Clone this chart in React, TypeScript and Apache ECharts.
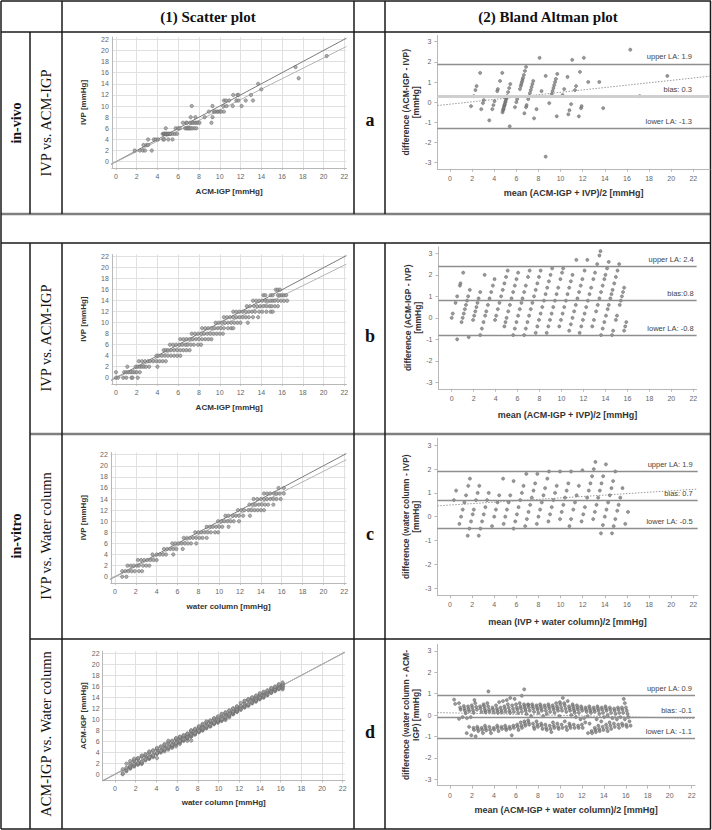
import React, { useEffect, useRef } from "react";
import * as echarts from "echarts";

// ---------- tick labels ----------
const evenTicks = [0, 2, 4, 6, 8, 10, 12, 14, 16, 18, 20, 22];
const diffTicks = [-3, -2, -1, 0, 1, 2, 3];

// ---------- (a) in-vivo: IVP levels and ACM-IGP readings ----------
const vivoIvpLevels = [2, 3, 4, 5, 6, 7, 8, 9, 10, 11, 12, 13, 14, 15, 17, 19];
const vivoAcm: number[][] = [
  [1.8, 2.3, 2.6, 2.8, 3.45],
  [2.65, 2.95, 3.1],
  [3.1, 3.65, 3.85, 4.05, 4.55, 4.65, 5.05, 5.45],
  [4.5, 4.6, 4.65, 4.7, 4.8, 4.85, 4.9, 5.0, 5.05, 5.15, 5.2, 5.3, 5.5, 5.7, 5.9],
  [4.8, 5.75, 6.0, 6.15, 6.65, 6.8, 6.9, 7.0, 7.1, 7.2, 7.35, 7.55, 7.75],
  [6.45, 6.75, 6.85, 7.15, 7.3, 7.45, 7.6, 7.75, 7.9, 8.05, 9.2],
  [7.2, 7.65, 8.55, 9.3],
  [8.95, 9.4, 9.55, 9.7, 9.85, 10.0, 10.15, 10.4],
  [7.3, 9.3, 10.35, 10.65, 11.25, 12.1],
  [10.4, 10.6, 10.9, 11.6, 11.8, 12.5, 13.2],
  [11.3, 11.7, 11.8, 13.0],
  [14.0],
  [13.7],
  [17.6],
  [17.3],
  [20.3],
];

// ---------- (b) in-vitro IVP vs ACM-IGP: index = IVP, values = ACM-IGP ----------
const vitroB: number[][] = [
  [0.0, 0.2, 0.7, 1.0, 1.5, 1.6, 2.1],
  [0.0, 0.8, 1.0, 1.2, 1.4, 1.6, 1.8, 2.0, 2.3],
  [1.1, 1.9, 2.1, 2.3, 2.5, 2.7, 2.9, 3.2, 4.0],
  [2.2, 2.5, 2.8, 3.1, 3.3, 3.6, 3.9, 4.2, 4.5, 4.8],
  [3.9, 4.1, 4.4, 4.7, 5.0, 5.3, 5.6, 5.9, 6.2],
  [4.6, 4.8, 5.0, 5.3, 5.6, 5.9, 6.2, 6.5, 6.8, 7.1],
  [5.2, 5.5, 5.8, 6.1, 6.4, 6.7, 6.9, 7.2, 7.5, 7.9, 8.2],
  [6.2, 6.5, 6.8, 7.1, 7.4, 7.7, 8.0, 8.3, 8.6, 8.9, 9.2],
  [7.3, 7.6, 7.9, 8.2, 8.5, 8.8, 9.1, 9.4, 9.7, 10.0, 10.3],
  [8.3, 8.6, 8.9, 9.2, 9.5, 9.8, 10.1, 10.4, 10.8, 11.1, 11.3],
  [9.6, 9.9, 10.2, 10.5, 10.8, 11.1, 11.4, 11.7, 12.0, 12.7],
  [10.4, 10.7, 11.0, 11.3, 11.6, 11.9, 12.2, 12.5, 12.8, 13.2, 13.7],
  [11.3, 11.6, 11.9, 12.2, 12.5, 12.8, 13.1, 13.4, 13.8, 14.1, 14.5, 14.9, 15.1],
  [12.6, 12.9, 13.3, 13.6, 13.9, 14.2, 14.5, 14.8, 15.0, 15.3, 15.6],
  [13.2, 13.5, 13.8, 14.1, 14.4, 14.6, 14.9, 15.1, 15.3, 15.6, 15.9, 16.2, 16.5],
  [14.2, 14.4, 14.9, 15.1, 15.6, 15.8, 16.0, 16.2, 16.4],
  [15.4, 15.6, 15.8],
];

// ---------- (c) in-vitro IVP vs water column: index = IVP, values = water column ----------
const vitroC: number[][] = [
  [0.7, 1.1],
  [0.7, 1.0, 1.3, 1.6, 1.9, 2.3, 2.6],
  [1.2, 1.5, 1.8, 2.1, 2.3, 2.7, 3.0, 3.3],
  [2.2, 2.5, 2.8, 3.1, 3.4, 3.7, 4.0],
  [3.6, 4.0, 4.3, 4.6, 4.9, 5.6],
  [4.7, 5.0, 5.3, 5.6, 5.9, 6.5],
  [5.5, 5.8, 6.1, 6.4, 6.7, 7.0, 7.3, 7.8],
  [6.6, 6.9, 7.2, 7.5, 7.8, 8.1, 8.4, 8.8],
  [7.7, 8.0, 8.3, 8.6, 8.9, 9.2, 9.6, 9.9],
  [8.8, 9.1, 9.4, 9.7, 10.0, 10.3, 10.9],
  [9.9, 10.2, 10.5, 10.8, 11.1, 11.4, 11.9],
  [10.6, 10.9, 11.3, 11.6, 11.9, 12.3, 12.95],
  [11.8, 12.1, 12.4, 12.8, 13.1, 13.4, 13.7, 14.0, 14.3],
  [12.9, 13.2, 13.5, 13.8, 14.1, 14.4, 14.7, 15.2],
  [13.3, 13.65, 14.0, 14.3, 14.6, 14.9, 15.2, 15.5, 15.9],
  [14.3, 14.6, 14.9, 15.25, 15.5, 15.8, 16.2],
  [15.7, 16.2],
];

// ---------- (d) in-vitro ACM-IGP vs water column: water column levels, differences (water - ACM) ----------
const waterD = [0.74, 1.1, 1.47, 1.84, 2.21, 2.58, 2.94, 3.31, 3.68, 4.05, 4.42, 4.78, 5.15, 5.52, 5.89, 6.26, 6.62, 6.99, 7.36, 7.73, 8.1, 8.46, 8.83, 9.2, 9.57, 9.94, 10.3, 10.67, 11.04, 11.41, 11.78, 12.14, 12.51, 12.88, 13.25, 13.62, 13.98, 14.35, 14.72, 15.09, 15.46, 15.82, 16.19];
const diffD: number[][] = [
  [0.72, 0.52, -0.18],
  [0.55, 0.35, 0.25, -0.1, -0.85],
  [0.42, 0.3, 0.2, 0.08, -0.15, -0.55, -0.95],
  [0.4, 0.28, 0.18, -0.1, -0.6, -0.7, -1.0],
  [0.45, 0.35, 0.22, 0.1, -0.55, -0.65, -0.75],
  [0.7, 0.55, 0.38, 0.25, -0.6, -0.7, -0.85],
  [0.4, 0.3, 0.15, -0.5, -0.62, -0.72],
  [0.5, 0.42, 0.3, 0.2, 0.12, -0.55, -0.7, -0.85],
  [0.55, 0.4, 0.25, 0.15, -0.6, -0.68],
  [1.1, 0.35, 0.25, 0.12, -0.5, -0.6, -0.75],
  [0.45, 0.3, 0.2, 0.1, -0.55, -0.65],
  [0.6, 0.35, 0.22, 0.12, -0.5, -0.62, -0.7],
  [0.65, 0.4, 0.28, 0.15, -0.55, -0.65, -0.95],
  [0.7, 0.5, 0.35, 0.2, 0.1, -0.5, -0.6],
  [0.8, 0.45, 0.3, 0.15, -0.45, -0.55, -0.7],
  [0.75, 0.5, 0.35, 0.25, 0.1, -0.35, -0.5, -0.6],
  [0.55, 0.4, 0.3, 0.15, -0.3, -0.4, -0.5],
  [0.9, 0.5, 0.4, 0.3, 0.2, 0.05, -0.25, -0.35, -0.45],
  [1.2, 0.5, 0.45, 0.35, 0.2, -0.05, -0.4, -0.55, -0.65],
  [0.5, 0.4, 0.3, 0.15, -0.3, -0.45, -0.55],
  [0.45, 0.35, 0.25, 0.1, -0.4, -0.5, -0.65],
  [0.5, 0.4, 0.3, 0.2, -0.05, -0.45, -0.6, -0.7],
  [0.45, 0.35, 0.2, 0.05, -0.5, -0.65, -0.8],
  [0.5, 0.4, 0.3, 0.15, -0.35, -0.5, -0.6],
  [0.45, 0.35, 0.25, 0.1, -0.4, -0.55, -0.65],
  [0.55, 0.4, 0.3, 0.2, -0.05, -0.45, -0.6],
  [0.6, 0.5, 0.35, 0.2, -0.3, -0.55, -0.7],
  [0.8, 0.55, 0.45, 0.3, 0.15, -0.4, -0.5, -0.6],
  [0.65, 0.4, 0.3, 0.2, 0.0, -0.45, -0.6],
  [0.5, 0.4, 0.3, 0.2, 0.1, -0.1, -0.5, -0.6],
  [0.45, 0.35, 0.25, 0.1, -0.2, -0.45, -0.6],
  [0.4, 0.3, 0.2, -0.15, -0.35, -0.85],
  [0.35, 0.25, 0.15, -0.05, -0.4, -0.75, -0.85],
  [0.4, 0.3, 0.2, 0.1, -0.6, -0.7, -0.8],
  [0.35, 0.25, 0.15, -0.2, -0.5, -0.65, -0.75],
  [0.4, 0.3, 0.2, 0.05, -0.3, -0.55, -0.7],
  [0.35, 0.25, 0.1, -0.1, -0.45, -0.6, -0.75],
  [0.4, 0.3, 0.2, 0.0, -0.35, -0.5, -0.65],
  [0.35, 0.25, 0.1, -0.15, -0.4, -0.55],
  [0.3, 0.2, 0.05, -0.2, -0.45, -0.6],
  [0.35, 0.25, 0.1, -0.1, -0.4, -0.5],
  [0.35, 0.25, 0.1, -0.2, -0.45, -0.55],
  [0.75, 0.55, 0.35, 0.2, 0.05, -0.1, -0.3, -0.5],
];

// ---------- regression / limits of agreement ----------
const scatterRegSlope = [0.935, 0.934, 0.953, 0.995];
const scatterRegIntercept = [-0.05, -0.08, -0.06, 0.08];
const baRegSlope = [0.059, 0, 0.03, -0.0116];
const baRegIntercept = [-0.1, 0, 0.49, 0.1];
const baHasReg = [true, false, true, true];
const upperLA = [1.9, 2.4, 1.9, 0.9];
const biasVal = [0.3, 0.8, 0.7, -0.1];
const lowerLA = [-1.3, -0.8, -0.5, -1.1];
const upperText = ["upper LA: 1.9", "upper LA: 2.4", "upper LA: 1.9", "upper LA: 0.9"];
const biasText = ["bias: 0.3", "bias:0.8", "bias: 0.7", "bias: -0.1"];
const lowerText = ["lower LA: -1.3", "lower LA: -0.8", "lower LA: -0.5", "lower LA: -1.1"];

// ---------- names ----------
const scatterXNames = ["ACM-IGP [mmHg]", "ACM-IGP [mmHg]", "water column [mmHg]", "water column [mmHg]"];
const scatterYNames = ["IVP [mmHg]", "IVP [mmHg]", "IVP [mmHg]", "ACM-IGP [mmHg]"];
const baXNames = [
  "mean (ACM-IGP + IVP)/2 [mmHg]",
  "mean (ACM-IGP + IVP)/2 [mmHg]",
  "mean (IVP + water column)/2 [mmHg]",
  "mean (ACM-IGP + water column)/2 [mmHg]",
];
const baYNames = [
  "difference (ACM-IGP - IVP)\n[mmHg]",
  "difference (ACM-IGP - IVP)\n[mmHg]",
  "difference (water column - IVP)\n[mmHg]",
  "difference (water column - ACM-\nIGP) [mmHg]",
];

// ---------- layout ----------
const scatterLayout = [
  { left: 111.8, top: 37.1, width: 234.6, height: 130.7, xMin: -0.4, xGap: 19.4, yGap: 24.6 },
  { left: 111.8, top: 254.5, width: 234.6, height: 129.25, xMin: -0.4, xGap: 19.75, yGap: 24.6 },
  { left: 110.8, top: 452.5, width: 235.5, height: 130.3, xMin: -0.4, xGap: 19.4, yGap: 23.6 },
  { left: 102.6, top: 651.1, width: 242.2, height: 129.3, xMin: -1.2, xGap: 18.4, yGap: 15.4 },
];
const baLayout = [
  { left: 437.3, top: 35.6, width: 272.6, height: 133.15, xMin: -1.15, xMax: 23.5, xGap: 20, yGap: 16, labelDx: 18 },
  { left: 438.5, top: 246.9, width: 258.1, height: 141.85, xMin: -1.2, xMax: 22.3, xGap: 21.75, yGap: 15.5, labelDx: 3 },
  { left: 437.3, top: 438.2, width: 260.4, height: 157, xMin: -1.15, xMax: 22.4, xGap: 22, yGap: 16, labelDx: 5 },
  { left: 437.3, top: 644.4, width: 257.7, height: 141.2, xMin: -1.15, xMax: 22.3, xGap: 20, yGap: 16, labelDx: 3 },
];

const SANS = '"Liberation Sans", Arial, sans-serif';
const SERIF = '"Liberation Serif", "Times New Roman", serif';

function buildPoints() {
  const sc: number[][][] = [[], [], [], []];
  const ba: number[][][] = [[], [], [], []];
  vivoIvpLevels.forEach((ivp, k) => {
    vivoAcm[k].forEach((a) => {
      sc[0].push([a, ivp]);
      ba[0].push([(a + ivp) / 2, a - ivp]);
    });
  });
  vitroB.forEach((row, ivp) => {
    row.forEach((a) => {
      sc[1].push([a, ivp]);
      ba[1].push([(a + ivp) / 2, a - ivp]);
    });
  });
  vitroC.forEach((row, ivp) => {
    row.forEach((w) => {
      sc[2].push([w, ivp]);
      ba[2].push([(w + ivp) / 2, w - ivp]);
    });
  });
  waterD.forEach((w, k) => {
    diffD[k].forEach((d) => {
      const a = w - d;
      sc[3].push([w, a]);
      ba[3].push([(w + a) / 2, d]);
    });
  });
  return { sc, ba };
}

function buildOption() {
  const { sc, ba } = buildPoints();
  const grid: any[] = [];
  const xAxis: any[] = [];
  const yAxis: any[] = [];
  const series: any[] = [];
  const axisColor = "#b8b8b8";
  const scatterPointStyle = { color: "#9a9a9a", borderColor: "#5e5e5e", borderWidth: 0.6 };
  const baPointStyle = { color: "#808080", borderColor: "#5a5a5a", borderWidth: 0.5 };

  for (let i = 0; i < 4; i++) {
    const s = scatterLayout[i];
    const b = baLayout[i];
    const gs = grid.length;
    grid.push({ left: s.left, top: s.top, width: s.width, height: s.height, containLabel: false, outerBoundsMode: "none" });
    grid.push({ left: b.left, top: b.top, width: b.width, height: b.height, containLabel: false, outerBoundsMode: "none" });

    // scatter axes
    xAxis.push({
      gridIndex: gs, type: "value", min: s.xMin, max: 22.2,
      name: scatterXNames[i], nameLocation: "middle", nameGap: s.xGap, nameMoveOverlap: false,
      nameTextStyle: { fontSize: 8, fontWeight: "bold", color: "#333", fontFamily: SANS },
      axisLine: { show: true, onZero: false, lineStyle: { color: axisColor, width: 1 } },
      axisTick: { show: true, length: 2, customValues: evenTicks, lineStyle: { color: axisColor } },
      axisLabel: { show: true, customValues: evenTicks, fontSize: 7, color: "#666", margin: 5, fontFamily: SANS },
      splitLine: { show: true, lineStyle: { color: "#e0e0e0", width: 1 } },
    });
    yAxis.push({
      gridIndex: gs, type: "value", min: -1.1, max: 22.4,
      name: scatterYNames[i], nameLocation: "middle", nameGap: s.yGap, nameRotate: 90, nameMoveOverlap: false,
      nameTextStyle: { fontSize: 8, fontWeight: "bold", color: "#333", fontFamily: SANS },
      axisLine: { show: true, onZero: false, lineStyle: { color: axisColor, width: 1 } },
      axisTick: { show: false, customValues: evenTicks },
      axisLabel: { show: true, customValues: evenTicks, fontSize: 7, color: "#666", margin: 3, fontFamily: SANS },
      splitLine: { show: true, lineStyle: { color: "#e0e0e0", width: 1 } },
    });
    // BA axes
    xAxis.push({
      gridIndex: gs + 1, type: "value", min: b.xMin, max: b.xMax,
      name: baXNames[i], nameLocation: "middle", nameGap: b.xGap, nameMoveOverlap: false,
      nameTextStyle: { fontSize: 9, fontWeight: "bold", color: "#333", fontFamily: SANS },
      axisLine: { show: true, onZero: false, lineStyle: { color: axisColor, width: 1 } },
      axisTick: { show: true, length: 3, customValues: evenTicks, lineStyle: { color: axisColor } },
      axisLabel: { show: true, customValues: evenTicks, fontSize: 7, color: "#666", margin: 6, fontFamily: SANS },
      splitLine: { show: false },
    });
    yAxis.push({
      gridIndex: gs + 1, type: "value", min: -3.3, max: 3.3,
      name: baYNames[i], nameLocation: "middle", nameGap: b.yGap, nameRotate: 90, nameMoveOverlap: false,
      nameTextStyle: { fontSize: 8.5, fontWeight: "bold", color: "#333", lineHeight: 10, align: "center", fontFamily: SANS },
      axisLine: { show: true, onZero: false, lineStyle: { color: axisColor, width: 1 } },
      axisTick: { show: true, length: 3, customValues: diffTicks, lineStyle: { color: axisColor } },
      axisLabel: { show: true, customValues: diffTicks, fontSize: 7, color: "#666", margin: 6, fontFamily: SANS },
      splitLine: { show: false },
    });

    const xi = gs;
    // identity line
    series.push({
      type: "line", xAxisIndex: xi, yAxisIndex: xi, data: [[-1.2, -1.2], [22.2, 22.2]],
      symbol: "none", clip: false, silent: true, z: 1,
      lineStyle: { color: "#7c7c7c", width: 1 },
    });
    // regression line
    const rs = scatterRegSlope[i];
    const ri = scatterRegIntercept[i];
    series.push({
      type: "line", xAxisIndex: xi, yAxisIndex: xi,
      data: [[-1.2, ri + rs * -1.2], [22.2, ri + rs * 22.2]],
      symbol: "none", clip: false, silent: true, z: 1,
      lineStyle: { color: "#b4b4b4", width: 1 },
    });
    // scatter points
    series.push({
      type: "scatter", xAxisIndex: xi, yAxisIndex: xi, data: sc[i],
      symbolSize: 3.4, itemStyle: scatterPointStyle, silent: true, z: 3,
    });

    // BA points + LA lines
    const lineLab = (txt: string) => ({
      show: true, position: "insideEndTop", formatter: txt, fontSize: 7.5, color: "#444",
      fontFamily: SANS, distance: [b.labelDx, 3],
      textBorderWidth: 0, textBorderColor: "transparent", textShadowBlur: 0,
      backgroundColor: "transparent",
    });
    const laStyle = { color: "#8e8e8e", width: 1.3, type: "solid" };
    const biasStyle = i === 0 ? { color: "#cfcfcf", width: 3, type: "solid" } : { color: "#8e8e8e", width: 1.3, type: "solid" };
    series.push({
      type: "scatter", xAxisIndex: xi + 1, yAxisIndex: xi + 1, data: ba[i],
      symbolSize: 3.2, itemStyle: baPointStyle, silent: true, z: 3,
      markLine: {
        silent: true, symbol: ["none", "none"], animation: false,
        data: [
          { yAxis: upperLA[i], lineStyle: laStyle, label: lineLab(upperText[i]) },
          { yAxis: biasVal[i], lineStyle: biasStyle, label: lineLab(biasText[i]) },
          { yAxis: lowerLA[i], lineStyle: laStyle, label: lineLab(lowerText[i]) },
        ],
      },
    });
    if (baHasReg[i]) {
      const bs = baRegSlope[i];
      const bi = baRegIntercept[i];
      series.push({
        type: "line", xAxisIndex: xi + 1, yAxisIndex: xi + 1,
        data: [[b.xMin, bi + bs * b.xMin], [b.xMax, bi + bs * b.xMax]],
        symbol: "none", silent: true, z: 2,
        lineStyle: { color: "#9a9a9a", width: 1, type: [1.5, 1.5] },
      });
    }
  }

  // ---------- table frame ----------
  const dark = { stroke: "#1a1a1a", lineWidth: 1.5 };
  const gray = { stroke: "#7f7f7f", lineWidth: 2.5 };
  const hl = (y: number, x1: number, x2: number, st: any) => ({ type: "line", silent: true, shape: { x1, y1: y, x2, y2: y }, style: st });
  const vl = (x: number, y1: number, y2: number, st: any) => ({ type: "line", silent: true, shape: { x1: x, y1, x2: x, y2 }, style: st });
  const txt = (t: string, x: number, y: number, font: string, rot = 0) => ({
    type: "text", silent: true, x, y, rotation: rot,
    style: { text: t, x: 0, y: 0, font, fill: "#111", textAlign: "center", textVerticalAlign: "middle", align: "center", verticalAlign: "middle" },
  });
  const graphics: any[] = [
    hl(1, 1, 711, dark), hl(32, 1, 711, dark), hl(214, 1, 711, gray), hl(243, 1, 711, dark),
    hl(434, 30, 711, gray), hl(639, 30, 711, dark), hl(829, 1, 711, dark),
    vl(1, 1, 829, dark), vl(710.5, 1, 829, dark),
    vl(30, 32, 214, dark), vl(30, 243, 829, dark),
    vl(62, 1, 214, dark), vl(62, 243, 829, dark),
    vl(354, 1, 214, dark), vl(354, 243, 829, dark),
    vl(385, 1, 214, dark), vl(385, 243, 829, dark),
    txt("(1) Scatter plot", 208, 17, `bold 15px ${SERIF}`),
    txt("(2) Bland Altman plot", 548, 17, `bold 15px ${SERIF}`),
    txt("in-vivo", 16, 123, `bold 14px ${SERIF}`, Math.PI / 2),
    txt("IVP vs. ACM-IGP", 46, 123, `14.5px ${SERIF}`, Math.PI / 2),
    txt("in-vitro", 16, 536, `bold 14px ${SERIF}`, Math.PI / 2),
    txt("IVP vs. ACM-IGP", 46, 338, `14.5px ${SERIF}`, Math.PI / 2),
    txt("IVP vs. Water column", 46, 536, `14.5px ${SERIF}`, Math.PI / 2),
    txt("ACM-IGP vs. Water column", 46, 734, `14.5px ${SERIF}`, Math.PI / 2),
    txt("a", 370, 120, `bold 18px ${SERIF}`),
    txt("b", 370, 336, `bold 18px ${SERIF}`),
    txt("c", 370, 534, `bold 18px ${SERIF}`),
    txt("d", 370, 732, `bold 18px ${SERIF}`),
  ];

  return {
    animation: false,
    backgroundColor: "#ffffff",
    textStyle: { fontFamily: SANS },
    grid, xAxis, yAxis, series,
    graphic: { elements: graphics },
  };
}

export default function App() {
  const ref = useRef<HTMLDivElement>(null);
  useEffect(() => {
    if (!ref.current) return;
    const chart = echarts.init(ref.current, null, { renderer: "svg" });
    chart.setOption(buildOption() as any);
    return () => chart.dispose();
  }, []);
  return (
    <div
      ref={ref}
      style={{ position: "absolute", left: 0, top: 0, width: 712, height: 830, background: "#fff" }}
    />
  );
}
